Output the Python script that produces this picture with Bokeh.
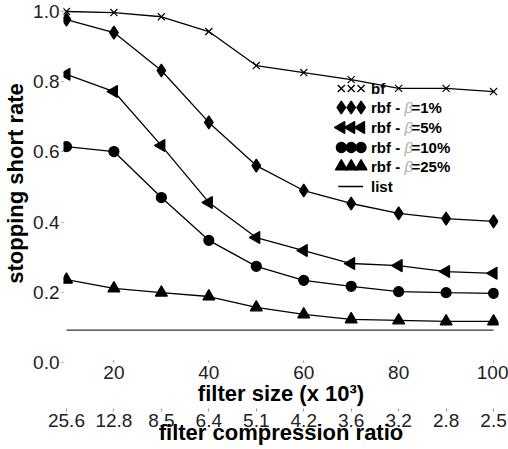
import math

from bokeh.core.properties import value
from bokeh.embed import file_html
from bokeh.models import FixedTicker, LinearAxis, PrintfTickFormatter, Range1d
from bokeh.plotting import figure
from bokeh.resources import INLINE

# ---- data -------------------------------------------------------------
filter_size = [10, 20, 30, 40, 50, 60, 70, 80, 90, 100]          # x 10^3
compression = ["25.6", "12.8", "8.5", "6.4", "5.1", "4.2", "3.6", "3.2", "2.8", "2.5"]

bf      = [1.000, 0.997, 0.985, 0.943, 0.846, 0.826, 0.806, 0.781, 0.781, 0.772]
rbf_1   = [0.977, 0.940, 0.832, 0.684, 0.561, 0.490, 0.453, 0.425, 0.410, 0.402]
rbf_5   = [0.821, 0.772, 0.618, 0.456, 0.356, 0.319, 0.282, 0.276, 0.259, 0.254]
rbf_10  = [0.615, 0.601, 0.470, 0.348, 0.274, 0.234, 0.217, 0.202, 0.199, 0.197]
rbf_25  = [0.236, 0.211, 0.199, 0.188, 0.157, 0.137, 0.123, 0.120, 0.117, 0.117]
list_rate = 0.092

size_ticks = [20, 40, 60, 80, 100]
rate_ticks = [0.0, 0.2, 0.4, 0.6, 0.8, 1.0]

# ---- layout -----------------------------------------------------------
W, H = 508, 449
BORDER_L, BORDER_R, BORDER_T, BORDER_B = 58, 10, 4, 87
FRAME_W = W - BORDER_L - BORDER_R
FRAME_H = H - BORDER_T - BORDER_B
X_START = 10 - 3 / 4.8
X_END = X_START + FRAME_W / 4.8
Y_END = FRAME_H / 351.0

FONT = "Liberation Sans"


def sx(px):
    """Horizontal canvas pixel -> data x."""
    return X_START + (px - BORDER_L) * (X_END - X_START) / FRAME_W


def sy(py):
    """Vertical canvas pixel -> data y."""
    return Y_END - (py - BORDER_T) * Y_END / FRAME_H


p = figure(
    width=W, height=H,
    x_range=Range1d(X_START, X_END), y_range=Range1d(0, Y_END),
    output_backend="svg", toolbar_location=None,
    min_border_left=BORDER_L, min_border_right=BORDER_R,
    min_border_top=BORDER_T, min_border_bottom=BORDER_B,
)
p.outline_line_color = None
p.grid.visible = False
p.background_fill_color = "white"
p.border_fill_color = "white"

# y axis
ya = p.yaxis[0]
ya.ticker = FixedTicker(ticks=rate_ticks)
ya.formatter = PrintfTickFormatter(format="%.1f")
ya.axis_line_color = None
ya.major_tick_in = 0
ya.major_tick_out = 2
ya.major_tick_line_color = "#999999"
ya.minor_tick_line_color = None
ya.major_label_standoff = 2
ya.major_label_text_font = FONT
ya.major_label_text_font_size = "19px"
ya.major_label_text_color = "#222222"
ya.axis_label = "stopping short rate"
ya.axis_label_text_font = FONT
ya.axis_label_text_font_size = "22px"
ya.axis_label_text_font_style = "bold"
ya.axis_label_text_color = "black"
ya.axis_label_standoff = 2

# filter size axis
xa = p.xaxis[0]
xa.ticker = FixedTicker(ticks=size_ticks)
xa.axis_line_color = None
xa.major_tick_in = 2
xa.major_tick_out = 0
xa.major_tick_line_color = "#999999"
xa.minor_tick_line_color = None
xa.major_label_standoff = 3
xa.major_label_text_font = FONT
xa.major_label_text_font_size = "19px"
xa.major_label_text_color = "#222222"
xa.axis_label = "filter size (x 10\u00b3)"
xa.axis_label_text_font = FONT
xa.axis_label_text_font_size = "22px"
xa.axis_label_text_font_style = "bold"
xa.axis_label_text_color = "black"
xa.axis_label_standoff = -1

# compression ratio axis
ca = LinearAxis(
    ticker=FixedTicker(ticks=filter_size),
    major_label_overrides={s: c for s, c in zip(filter_size, compression)},
)
ca.axis_line_color = None
ca.major_tick_in = 0
ca.major_tick_out = 3
ca.major_tick_line_color = "#999999"
ca.minor_tick_line_color = None
ca.major_label_standoff = 2
ca.major_label_text_font = FONT
ca.major_label_text_font_size = "19px"
ca.major_label_text_color = "#222222"
ca.axis_label = "filter compression ratio"
ca.axis_label_text_font = FONT
ca.axis_label_text_font_size = "22px"
ca.axis_label_text_font_style = "bold"
ca.axis_label_text_color = "black"
ca.axis_label_standoff = -10
p.add_layout(ca, "below")

# ---- series -----------------------------------------------------------
series = [
    (bf, "x", 10, 0.0, "bf", None),
    (rbf_1, "diamond", 13, 0.0, "rbf - ", "=1%"),
    (rbf_5, "triangle", 12, math.pi / 2, "rbf - ", "=5%"),
    (rbf_10, "circle", 10, 0.0, "rbf - ", "=10%"),
    (rbf_25, "triangle", 12, 0.0, "rbf - ", "=25%"),
]

LW = 1.3
p.line([filter_size[0], filter_size[-1]], [list_rate, list_rate],
       line_color="#333333", line_width=LW)
for vals, marker, size, angle, _, _ in series:
    p.line(filter_size, vals, line_color="black", line_width=LW)
    p.scatter(filter_size, vals, marker=marker, size=size, angle=angle,
              fill_color="black", line_color="black", line_width=1.2)

# ---- key --------------------------------------------------------------
KEY_FONT = "15px"
row_py = [88, 107, 127, 147, 166, 186]
key_px = [339, 349, 359]
for (vals, marker, size, angle, lead, tail), py in zip(series, row_py):
    p.scatter([sx(v) for v in key_px], [sy(py)] * 3, marker=marker, size=size,
              angle=angle, fill_color="black", line_color="black", line_width=1.3)
    p.text([sx(369)], [sy(py)], text=[lead], text_font=value(FONT),
           text_font_size=KEY_FONT, text_font_style="bold",
           text_baseline="middle", text_align="left", text_color="black")
    if tail:
        p.text([sx(403)], [sy(py)], text=["\u03b2"], text_font=value(FONT),
               text_font_size=KEY_FONT, text_font_style="italic",
               text_baseline="middle", text_align="left", text_color="#b0b0b0")
        p.text([sx(410)], [sy(py)], text=[tail], text_font=value(FONT),
               text_font_size=KEY_FONT, text_font_style="bold",
               text_baseline="middle", text_align="left", text_color="black")

p.line([sx(336), sx(361)], [sy(row_py[-1])] * 2, line_color="black", line_width=LW)
p.text([sx(369)], [sy(row_py[-1])], text=["list"], text_font=value(FONT),
       text_font_size=KEY_FONT, text_font_style="bold",
       text_baseline="middle", text_align="left", text_color="black")

open("out.html", "w").write(file_html(p, INLINE))
